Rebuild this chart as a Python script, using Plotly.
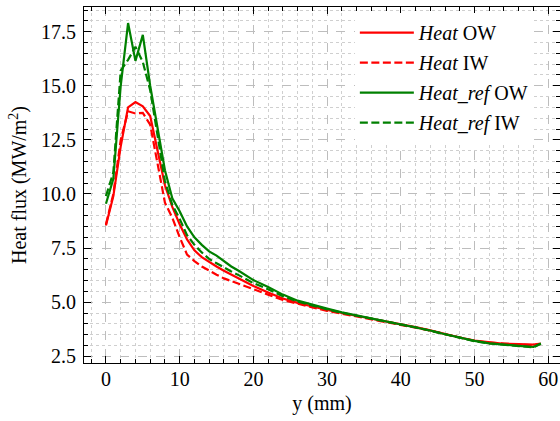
import plotly.graph_objects as go

# Sampling positions along the wall (mm)
x_mm = [0, 1, 2, 3, 4, 5, 6, 7, 8, 9, 10, 11, 12, 13, 14, 15, 16, 17, 18, 19, 20,
        22, 24, 26, 28, 30, 32, 34, 36, 38, 40, 42, 44, 46, 48, 50, 52, 54, 56, 58, 59]

# Heat flux (MW/m^2)
heat_ow = [8.55, 9.9, 12.2, 14.0, 14.25, 14.05, 13.6, 12.0, 10.4, 9.4, 8.6, 7.9, 7.4, 7.08,
           6.85, 6.65, 6.45, 6.28, 6.1, 5.92, 5.75, 5.45, 5.17, 4.97, 4.8, 4.64, 4.5, 4.37,
           4.25, 4.13, 4.0, 3.85, 3.7, 3.53, 3.37, 3.23, 3.14, 3.08, 3.06, 3.04, 3.09]
heat_iw = [8.6, 10.0, 12.5, 13.82, 13.72, 13.75, 13.2, 11.4, 9.6, 8.9, 8.0, 7.2, 6.9, 6.65,
           6.45, 6.27, 6.1, 5.97, 5.85, 5.72, 5.6, 5.35, 5.1, 4.92, 4.76, 4.6, 4.47, 4.35,
           4.23, 4.11, 3.98, 3.84, 3.69, 3.52, 3.36, 3.22, 3.13, 3.07, 3.04, 3.01, 3.07]
heat_ref_ow = [9.55, 10.7, 15.0, 17.9, 16.15, 17.35, 15.0, 13.0, 11.1, 9.8, 9.2, 8.5, 8.0, 7.65,
               7.35, 7.15, 6.9, 6.65, 6.45, 6.25, 6.02, 5.7, 5.35, 5.07, 4.87, 4.7, 4.53, 4.39,
               4.25, 4.12, 3.99, 3.85, 3.69, 3.52, 3.36, 3.21, 3.1, 3.03, 2.98, 2.93, 3.09]
heat_ref_iw = [9.9, 11.0, 15.7, 16.2, 16.8, 16.1, 14.8, 12.6, 10.6, 9.5, 8.85, 8.1, 7.65, 7.3,
               7.0, 6.8, 6.6, 6.42, 6.25, 6.07, 5.88, 5.6, 5.28, 5.03, 4.84, 4.67, 4.51, 4.38,
               4.24, 4.11, 3.98, 3.84, 3.68, 3.51, 3.35, 3.2, 3.09, 3.02, 2.97, 2.92, 3.08]

series = [
    ("<i>Heat</i> OW", heat_ow, "#ff0000", "solid"),
    ("<i>Heat</i> IW", heat_iw, "#ff0000", "8px,3.5px"),
    ("<i>Heat_ref</i> OW", heat_ref_ow, "#008000", "solid"),
    ("<i>Heat_ref</i> IW", heat_ref_iw, "#008000", "8px,3.5px"),
]

SERIF = "Liberation Serif, Times New Roman, serif"

fig = go.Figure()
for i, (name, values, color, dash) in enumerate(series):
    fig.add_trace(go.Scatter(
        x=x_mm, y=values, mode="lines", name=name, legendgroup=f"g{i}",
        line=dict(color=color, width=2.2, dash=dash),
    ))

axis_style = dict(
    showline=True, linecolor="black", linewidth=1.2, mirror="allticks",
    ticks="inside", ticklen=7, tickwidth=1.1, tickcolor="black",
    showgrid=True, gridcolor="#bdbdbd", griddash="dash", gridwidth=1,
    zeroline=False,
    tickfont=dict(family=SERIF, size=20, color="black"),
)

fig.update_xaxes(
    **axis_style,
    range=[-2.98, 61.6], tick0=0, dtick=10,
    minor=dict(ticks="inside", ticklen=3.5, tickwidth=1, tickcolor="black", dtick=2,
               showgrid=True, gridcolor="#cfcfcf", griddash="dot", gridwidth=1),
    title=dict(text="y (mm)", font=dict(family=SERIF, size=20, color="black"), standoff=6),
    ticklabelstandoff=-2,
)
fig.update_yaxes(
    **axis_style,
    range=[2.19, 18.64], tick0=2.5, dtick=2.5, tickformat=".1f",
    minor=dict(ticks="inside", ticklen=3.5, tickwidth=1, tickcolor="black", dtick=0.5,
               showgrid=True, gridcolor="#cfcfcf", griddash="dot", gridwidth=1),
    title=dict(text="Heat flux (MW/m<sup>2</sup>)", font=dict(family=SERIF, size=20, color="black"), standoff=8),
    ticklabelstandoff=3,
)

fig.update_layout(
    width=560, height=421,
    margin=dict(l=84, r=0, t=7, b=58),
    plot_bgcolor="white", paper_bgcolor="white",
    font=dict(family=SERIF, size=20, color="black"),
    showlegend=True,
    legend=dict(x=0.569, y=0.983, xanchor="left", yanchor="top", bgcolor="white",
                borderwidth=0, tracegroupgap=1, itemwidth=54,
                font=dict(family=SERIF, size=20, color="black")),
)

fig.write_html("out.html")
